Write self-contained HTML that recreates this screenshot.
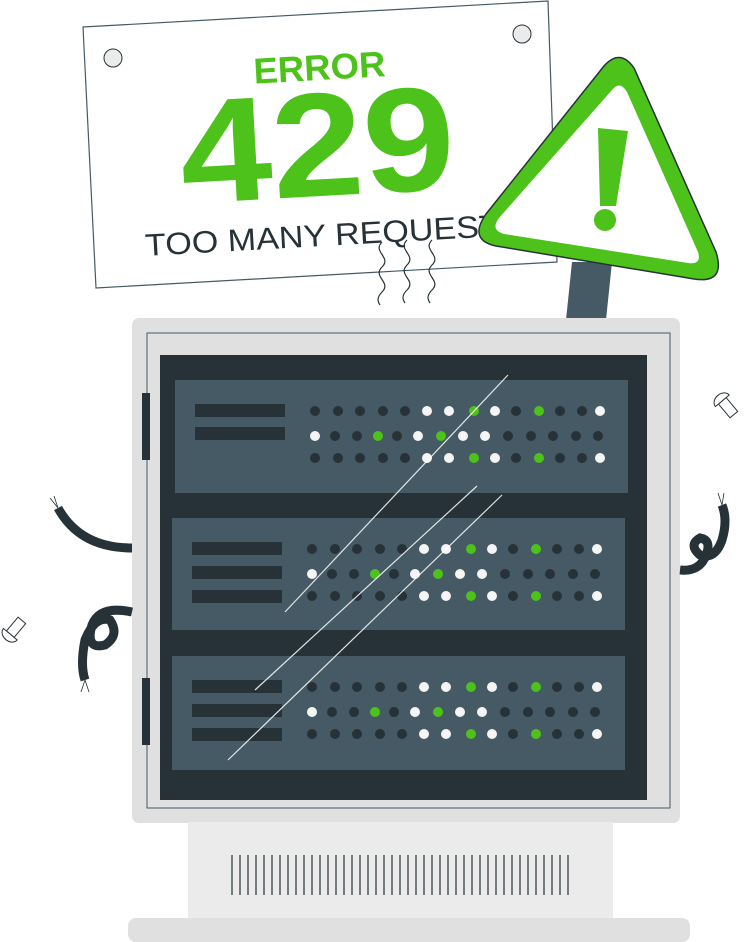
<!DOCTYPE html><html><head><style>html,body{margin:0;padding:0;background:#fff}svg{display:block}</style></head><body>
<svg width="750" height="942" viewBox="0 0 750 942" xmlns="http://www.w3.org/2000/svg">
<defs>
<g id="dots">
<g fill="#263238"><circle cx="315" cy="411" r="5"/><circle cx="338" cy="411" r="5"/><circle cx="360" cy="411" r="5"/><circle cx="383" cy="411" r="5"/><circle cx="405" cy="411" r="5"/><circle cx="516" cy="411" r="5"/><circle cx="560" cy="411" r="5"/><circle cx="582" cy="411" r="5"/>
<circle cx="315" cy="458" r="5"/><circle cx="338" cy="458" r="5"/><circle cx="360" cy="458" r="5"/><circle cx="383" cy="458" r="5"/><circle cx="405" cy="458" r="5"/><circle cx="516" cy="458" r="5"/><circle cx="560" cy="458" r="5"/><circle cx="582" cy="458" r="5"/>
<circle cx="335" cy="436" r="5"/><circle cx="357" cy="436" r="5"/><circle cx="397" cy="436" r="5"/><circle cx="508" cy="436" r="5"/><circle cx="531" cy="436" r="5"/><circle cx="553" cy="436" r="5"/><circle cx="576" cy="436" r="5"/><circle cx="598" cy="436" r="5"/></g>
<g fill="#f5f5f5"><circle cx="427" cy="411" r="5"/><circle cx="449" cy="411" r="5"/><circle cx="495" cy="411" r="5"/><circle cx="600" cy="411" r="5"/>
<circle cx="427" cy="458" r="5"/><circle cx="449" cy="458" r="5"/><circle cx="495" cy="458" r="5"/><circle cx="600" cy="458" r="5"/>
<circle cx="315" cy="436" r="5"/><circle cx="418" cy="436" r="5"/><circle cx="463" cy="436" r="5"/><circle cx="485" cy="436" r="5"/></g>
<g fill="#4cc21a"><circle cx="474" cy="411" r="5"/><circle cx="539" cy="411" r="5"/><circle cx="474" cy="458" r="5"/><circle cx="539" cy="458" r="5"/><circle cx="378" cy="436" r="5"/><circle cx="441" cy="436" r="5"/></g>
</g>
</defs>
<!-- sign -->
<polygon points="83,27 548,1 557,262 96,288" fill="#fff" stroke="#455a64" stroke-width="1.2"/>
<circle cx="113" cy="58" r="9" fill="#ebebeb" stroke="#263238" stroke-width="1"/>
<circle cx="522" cy="34" r="9" fill="#ebebeb" stroke="#263238" stroke-width="1"/>
<g transform="rotate(-3.2 320 150)" font-family="Liberation Sans, sans-serif">
<text x="258" y="80" font-size="36" font-weight="bold" fill="#4cc21a" textLength="132" lengthAdjust="spacingAndGlyphs">ERROR</text>
<text x="180" y="196" font-size="148" font-weight="bold" fill="#4cc21a" textLength="275" lengthAdjust="spacingAndGlyphs">429</text>
<text x="140" y="246" font-size="31" fill="#263238" textLength="378" lengthAdjust="spacingAndGlyphs">TOO MANY REQUESTS</text>
</g>
<g fill="none" stroke="#263238" stroke-width="1.2">
<path d="M382,242 c-10,10 10,15 0,25 c-10,10 10,15 0,25 c-6,6 -4,10 -2,13"/>
<path d="M407,240 c-10,10 10,15 0,25 c-10,10 10,15 0,25 c-6,6 -4,10 -2,13"/>
<path d="M432,240 c-10,10 10,15 0,25 c-10,10 10,15 0,25 c-6,6 -4,10 -2,13"/>
</g>
<!-- pole -->
<polygon points="572,262 612,262 606,320 566,320" fill="#455a64"/>
<!-- warning -->
<path d="M604,66 Q620,48 634,68 L716,252 Q726,284 694,279 L496,246 Q468,240 486,214 Z" fill="#4cc21a" stroke="#263238" stroke-width="1.5"/>
<path d="M612,90 Q620,80 627,92 L698,252 Q702,265 688,263 L504,234 Q490,230 499,218 Z" fill="#fff"/>
<polygon points="598,128 628,131 616,206 600,206" fill="#4cc21a"/>
<circle cx="605" cy="220" r="11" fill="#4cc21a"/>
<!-- server -->
<rect x="132" y="318" width="548" height="505" rx="7" fill="#e0e0e0"/>
<rect x="147" y="333" width="523" height="475" fill="none" stroke="#455a64" stroke-width="1"/>
<rect x="160" y="355" width="487" height="445" fill="#263238"/>
<rect x="142" y="393" width="8" height="67" fill="#263238"/>
<rect x="142" y="678" width="8" height="67" fill="#263238"/>
<rect x="175" y="380" width="453" height="113" fill="#455a64"/>
<rect x="172" y="518" width="453" height="112" fill="#455a64"/>
<rect x="172" y="656" width="453" height="114" fill="#455a64"/>
<g fill="#263238">
<rect x="195" y="404" width="90" height="13"/><rect x="195" y="427" width="90" height="13"/>
<rect x="192" y="542" width="90" height="13"/><rect x="192" y="566" width="90" height="13"/><rect x="192" y="590" width="90" height="13"/>
<rect x="192" y="680" width="90" height="13"/><rect x="192" y="704" width="90" height="13"/><rect x="192" y="728" width="90" height="13"/>
</g>
<use href="#dots"/>
<use href="#dots" transform="translate(-3,138)"/>
<use href="#dots" transform="translate(-3,276)"/>
<g stroke="#fff" stroke-width="1.2" opacity="0.85">
<line x1="508" y1="375" x2="285" y2="612"/>
<line x1="477" y1="486" x2="255" y2="690"/>
<line x1="502" y1="495" x2="228" y2="760"/>
</g>
<!-- base -->
<rect x="188" y="822" width="425" height="100" fill="#ebebeb"/>
<g stroke="#263238" stroke-width="1.2">
<path d="M232,855v40M240,855v40M248,855v40M256,855v40M264,855v40M272,855v40M280,855v40M288,855v40M296,855v40M304,855v40M312,855v40M320,855v40M328,855v40M336,855v40M344,855v40M352,855v40M360,855v40M368,855v40M376,855v40M384,855v40M392,855v40M400,855v40M408,855v40M416,855v40M424,855v40M432,855v40M440,855v40M448,855v40M456,855v40M464,855v40M472,855v40M480,855v40M488,855v40M496,855v40M504,855v40M512,855v40M520,855v40M528,855v40M536,855v40M544,855v40M552,855v40M560,855v40M568,855v40"/>
</g>
<rect x="128" y="918" width="562" height="24" rx="8" fill="#e0e0e0"/>
<!-- cables -->
<g fill="none" stroke="#263238" stroke-width="9" stroke-linecap="butt">
<path d="M132,548 Q80,548 58,508"/>
<path d="M132,612 Q100,605 92,625 Q85,650 105,645 Q120,635 110,620 Q95,615 85,640 Q80,665 85,680"/>
<path d="M680,570 Q700,572 706,555 Q712,540 700,538 Q688,545 700,555 Q715,560 722,540 Q728,520 722,505"/>
</g>
<g stroke="#263238" stroke-width="0.8"><path d="M58,508 l-8,-10 M58,508 l-4,-12 M85,680 l-4,12 M85,680 l4,12 M722,505 l-4,-12 M722,505 l2,-12"/></g>
<!-- screws -->
<g transform="translate(730,410) rotate(-40)" stroke="#263238" stroke-width="1"><rect x="-5" y="-12" width="10" height="18" fill="#fff"/><path d="M-9,-12 a9,7 0 0 1 18,0 z" fill="#fff"/></g>
<g transform="translate(18,625) rotate(-140)" stroke="#263238" stroke-width="1"><rect x="-5" y="-12" width="10" height="18" fill="#fff"/><path d="M-9,-12 a9,7 0 0 1 18,0 z" fill="#fff"/></g>
</svg>
</body></html>
